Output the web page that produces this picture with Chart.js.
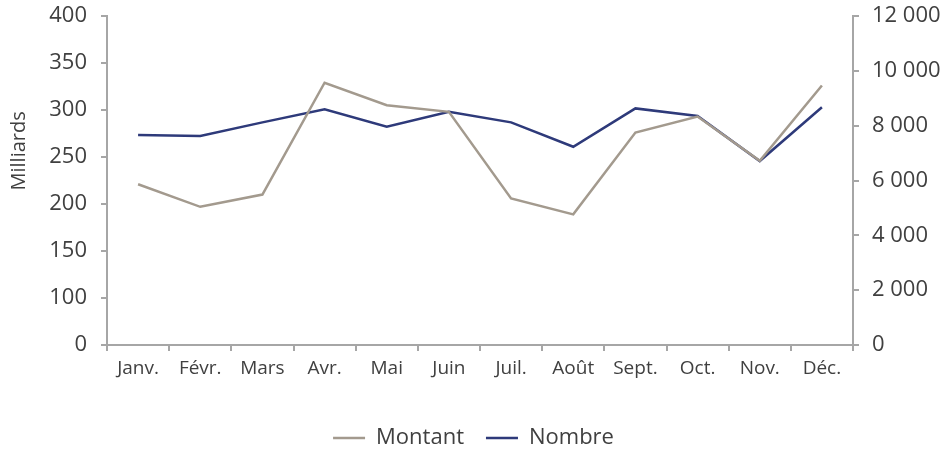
<!doctype html>
<html>
<head>
<meta charset="utf-8">
<title>Montant et Nombre</title>
<script src="https://cdn.jsdelivr.net/npm/chart.js"></script>
<style>
    html, body { margin: 0; padding: 0; background: #fff; }
    #wrap { width: 947px; height: 450px; }
</style>
</head>
<body>
<div id="wrap"><canvas id="myChart"></canvas></div>
<script>
    // data
    var labels = ['Janv.', 'Févr.', 'Mars', 'Avr.', 'Mai', 'Juin', 'Juil.', 'Août', 'Sept.', 'Oct.', 'Nov.', 'Déc.'];
    var montant = [221, 197, 210, 329, 305, 298, 206, 189, 276, 293, 246, 326];
    var nombre = [7660, 7620, 8120, 8600, 7960, 8510, 8120, 7230, 8630, 8350, 6710, 8670];

    // left axis: bottom tick is labelled 0 in the source, spacing as the others
    var leftTickValues = [50, 100, 150, 200, 250, 300, 350, 400];
    var leftTickLabels = ['0', '100', '150', '200', '250', '300', '350', '400'];
    var rightTickValues = [0, 2000, 4000, 6000, 8000, 10000, 12000];
    var rightTickLabels = ['0', '2 000', '4 000', '6 000', '8 000', '10 000', '12 000'];

    var axisGrey = '#a6a6a6';
    var textColor = '#404040';
    var fontFamily = '"Open Sans", "Noto Sans", sans-serif';

    Chart.defaults.font.family = fontFamily;
    Chart.defaults.color = textColor;

    var yTitle = {
        id: 'yTitle',
        afterDraw: function (chart) {
            var ctx = chart.ctx;
            var area = chart.chartArea;
            ctx.save();
            ctx.translate(19, area.top + area.height * 0.41);
            ctx.rotate(-Math.PI / 2);
            ctx.font = '20px ' + fontFamily;
            ctx.fillStyle = textColor;
            ctx.textAlign = 'center';
            ctx.textBaseline = 'middle';
            ctx.fillText('Milliards', 0, 0);
            ctx.restore();
        }
    };

    function noLabelPadding(scale, width) {
        scale.width = width;
        scale.paddingTop = 0;
        scale.paddingBottom = 0;
    }

    new Chart(document.getElementById('myChart'), {
        type: 'line',
        data: {
            labels: labels,
            datasets: [{
                label: 'Montant',
                data: montant,
                yAxisID: 'y',
                borderColor: '#a39a8e',
                backgroundColor: '#a39a8e',
                borderWidth: 2.5,
                pointRadius: 0,
                tension: 0
            }, {
                label: 'Nombre',
                data: nombre,
                yAxisID: 'y1',
                borderColor: '#2e3a7a',
                backgroundColor: '#2e3a7a',
                borderWidth: 2.5,
                pointRadius: 0,
                tension: 0
            }]
        },
        options: {
            responsive: true,
            maintainAspectRatio: false,
            animation: false,
            layout: {padding: {left: 0, right: 0, top: 16, bottom: 0}},
            plugins: {
                legend: {
                    position: 'bottom',
                    maxHeight: 45,
                    labels: {
                        usePointStyle: true,
                        pointStyle: 'line',
                        pointStyleWidth: 32,
                        boxHeight: 10,
                        padding: 22,
                        color: textColor,
                        font: {size: 22}
                    }
                },
                tooltip: {enabled: false}
            },
            scales: {
                x: {
                    offset: true,
                    grid: {offset: true, drawOnChartArea: false, drawTicks: true, tickLength: 6, color: axisGrey, lineWidth: 2},
                    border: {color: axisGrey, width: 2},
                    ticks: {font: {size: 19}, color: textColor, padding: 6, maxRotation: 0, autoSkip: false},
                    afterFit: function (scale) { scale.height = 60; }
                },
                y: {
                    position: 'left',
                    min: 50,
                    max: 400,
                    afterBuildTicks: function (scale) {
                        scale.ticks = leftTickValues.map(function (v) { return {value: v}; });
                    },
                    grid: {drawOnChartArea: false, drawTicks: true, tickLength: 6, color: axisGrey, lineWidth: 2},
                    border: {color: axisGrey, width: 2},
                    ticks: {
                        font: {size: 22},
                        color: textColor,
                        padding: 14,
                        callback: function (value, index) { return leftTickLabels[index]; }
                    },
                    afterFit: function (scale) { noLabelPadding(scale, 107); }
                },
                y1: {
                    position: 'right',
                    min: 0,
                    max: 12000,
                    afterBuildTicks: function (scale) {
                        scale.ticks = rightTickValues.map(function (v) { return {value: v}; });
                    },
                    grid: {drawOnChartArea: false, drawTicks: true, tickLength: 6, color: axisGrey, lineWidth: 2},
                    border: {color: axisGrey, width: 2},
                    ticks: {
                        font: {size: 22},
                        color: textColor,
                        padding: 13,
                        callback: function (value, index) { return rightTickLabels[index]; }
                    },
                    afterFit: function (scale) { noLabelPadding(scale, 94); }
                }
            }
        },
        plugins: [yTitle]
    });
</script>
</body>
</html>
